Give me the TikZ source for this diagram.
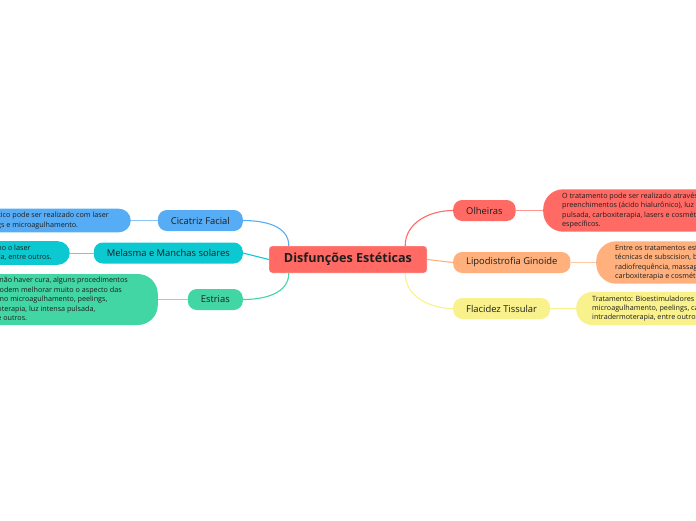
\documentclass[tikz,border=0pt]{standalone}
\usepackage{fontspec}
\setmainfont{Open Sans}
\usepackage{xcolor}
\usepackage{tikz}
\usetikzlibrary{positioning}
\definecolor{mapRed}{HTML}{FF6A64}
\definecolor{mapBlue}{HTML}{56ACF5}
\definecolor{mapCyan}{HTML}{0CC8D1}
\definecolor{mapGreen}{HTML}{42D6A5}
\definecolor{mapOrange}{HTML}{FFB07C}
\definecolor{mapYellow}{HTML}{F8F18C}
\definecolor{mapInk}{HTML}{1E1E1E}
\tikzset{
  hub/.style={rectangle, rounded corners=3pt, draw=white, fill=mapRed, minimum width=158pt, minimum height=27pt, font=\fontsize{12.6}{14}\selectfont\bfseries, text=mapInk},
  topic/.style={rectangle, rounded corners=9pt, draw=none, inner xsep=13pt, minimum height=21pt, font=\fontsize{9.4}{11}\selectfont, text=mapInk},
  note/.style={rectangle, rounded corners=20pt, draw=none, inner xsep=19pt, inner ysep=3.5pt, align=left, font=\fontsize{7.2}{9.4}\selectfont, text=mapInk},
  link/.style={line width=1.1pt},
  twig/.style={line width=1pt}
}

\begin{document}
\begin{tikzpicture}[x=1pt, y=1pt]
  \useasboundingbox (0,0) rectangle (696,-520);
  \clip (0,0) rectangle (696,-520);

  \node[hub] (core) at (348,-259.5) {Disfunções Estéticas};

  % left side
  \node[topic, fill=mapBlue, anchor=east] (cicatriz) at (243,-220.5) {Cicatriz Facial};
  \node[topic, fill=mapCyan, anchor=east] (melasma) at (243,-253) {Melasma e Manchas solares};
  \node[topic, fill=mapGreen, anchor=east] (estrias) at (243,-299.5) {Estrias};
  \node[note, fill=mapBlue, anchor=east, inner xsep=22pt, rounded corners=12pt] (cicatrizTxt) at (131,-220.5) {O tratamento estético pode ser realizado com laser\\fracionado, peelings e microagulhamento.};
  \node[note, fill=mapCyan, anchor=east, inner xsep=18pt, rounded corners=12pt] (melasmaTxt) at (70,-253) {Clareadores, peelings e tecnologias como o laser\\Q-switched e picossegundos, luz pulsada, entre outros.};
  \node[note, fill=mapGreen, anchor=east, inner xsep=30pt] (estriasTxt) at (158,-299.5) {Apesar de não haver cura, alguns procedimentos\\estéticos podem melhorar muito o aspecto das\\estrias, como microagulhamento, peelings,\\intradermoterapia, luz intensa pulsada,\\laser, entre outros.};

  % right side
  \node[topic, fill=mapRed, anchor=west] (olheiras) at (453,-210.5) {Olheiras};
  \node[topic, fill=mapOrange, anchor=west] (lipo) at (453,-262.5) {Lipodistrofia Ginoide};
  \node[topic, fill=mapYellow, anchor=west] (flacidez) at (453,-308.5) {Flacidez Tissular};
  \node[note, fill=mapRed, anchor=west] (olheirasTxt) at (543,-210.5) {O tratamento pode ser realizado através de\\preenchimentos (ácido hialurônico), luz intensa\\pulsada, carboxiterapia, lasers e cosméticos\\específicos.};
  \node[note, fill=mapOrange, anchor=west] (lipoTxt) at (596,-262.5) {Entre os tratamentos estéticos estão\\técnicas de subscision, bioestimuladores,\\radiofrequência, massagens modeladoras,\\carboxiterapia e cosméticos específicos.};
  \node[note, fill=mapYellow, anchor=west, inner xsep=16pt, rounded corners=16pt] (flacidezTxt) at (576,-308.5) {Tratamento: Bioestimuladores de colágeno,\\microagulhamento, peelings, carboxiterapia,\\intradermoterapia, entre outros.};

  \draw[link, mapBlue] ([xshift=20pt]core.north west) to[out=90, in=0] (cicatriz.east);
  \draw[link, mapCyan] (core.west) -- (melasma.east);
  \draw[link, mapGreen] ([xshift=20pt]core.south west) to[out=-90, in=0] (estrias.east);
  \draw[link, mapRed] ([xshift=-22pt]core.north east) to[out=90, in=180] (olheiras.west);
  \draw[link, mapOrange] (core.east) -- (lipo.west);
  \draw[link, mapYellow] ([xshift=-22pt]core.south east) to[out=-90, in=180] (flacidez.west);

  \draw[twig, mapBlue!70] (cicatriz.west) -- (cicatrizTxt.east);
  \draw[twig, mapCyan!70] (melasma.west) -- (melasmaTxt.east);
  \draw[twig, mapGreen!70] (estrias.west) -- (estriasTxt.east);
  \draw[twig, mapRed!70] (olheiras.east) -- (olheirasTxt.west);
  \draw[twig, mapOrange!70] (lipo.east) -- (lipoTxt.west);
  \draw[twig, mapYellow] (flacidez.east) -- (flacidezTxt.west);
\end{tikzpicture}
\end{document}
